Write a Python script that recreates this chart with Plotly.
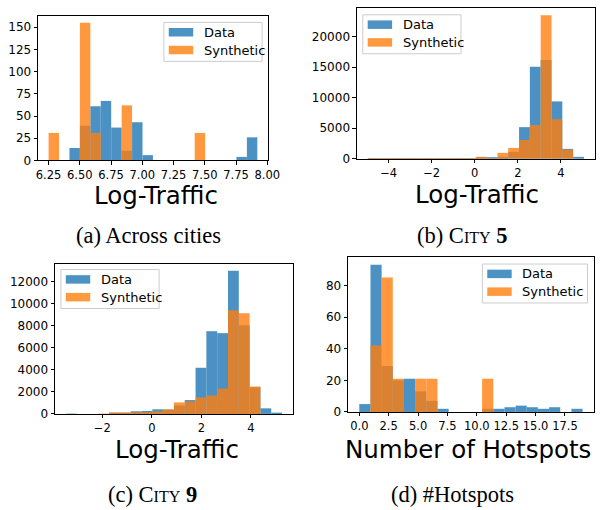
import numpy as np
import plotly.graph_objects as go

W, H = 608, 510

# ---------------- data (histogram counts, 20 shared bins per panel) ----------------
a_bin_range = (6.25, 7.92)
a_data = [0, 0, 14, 39, 61, 67, 37, 11, 43, 6, 0, 0, 0, 0, 0, 0, 0, 0, 4, 26]
a_synth = [31, 0, 0, 155, 31, 0, 0, 62, 0, 0, 0, 0, 0, 0, 31, 0, 0, 0, 0, 0]

b_bin_range = (-4.97, 5.07)
b_data = [30, 20, 20, 20, 30, 30, 40, 50, 60, 80, 100, 150, 320, 1130, 5175, 15040, 16170, 9380, 1617, 320]
b_synth = [60, 30, 30, 30, 30, 30, 40, 50, 50, 60, 320, 60, 970, 1780, 3073, 5500, 23450, 6470, 1509, 0]

c_bin_range = (-3.47, 5.26)
c_data = [10, 0, 0, 0, 120, 120, 240, 270, 420, 400, 778, 1257, 4190, 7510, 7330, 12990, 8050, 2424, 509, 30]
c_synth = [0, 0, 0, 10, 30, 60, 150, 150, 240, 400, 1047, 1137, 1496, 1676, 2304, 9400, 9127, 2484, 0, 0]

d_bin_range = (0, 19)
d_data = [5, 93, 29, 20, 21, 13, 7, 2, 0, 0, 0, 2, 2, 3, 4, 3, 2, 3, 0, 2]
d_synth = [0, 42, 85, 21, 0, 21, 21, 0, 0, 0, 0, 21, 0, 0, 0, 0, 0, 0, 0, 0]

series_names = ["Data", "Synthetic"]
x_titles = ["Log-Traffic", "Log-Traffic", "Log-Traffic", "Number of Hotspots"]
captions = [
    "(a) Across cities",
    "(b) C<span style='font-size:16px'>ITY</span> <b>5</b>",
    "(c) C<span style='font-size:16px'>ITY</span> <b>9</b>",
    "(d) #Hotspots",
]

BLUE = "#1f77b4"
ORANGE = "#ff7f0e"

# ---------------- layout geometry (pixels) ----------------
panels = [
    dict(rng=a_bin_range, d=a_data, s=a_synth, box=(37, 16, 272, 162.7),
         xtick=dict(tick0=6.25, dtick=0.25, tickformat=".2f"), ydtick=25,
         leg=(165.7, 22.7), title=(157.5, 198.5), cap=(150, 239)),
    dict(rng=b_bin_range, d=b_data, s=b_synth, box=(363.3, 8.3, 606.7, 161),
         xtick=dict(tick0=0, dtick=2, tickformat="d"), ydtick=5000,
         leg=(369.3, 15), title=(485.8, 197), cap=(470.8, 239)),
    dict(rng=c_bin_range, d=c_data, s=c_synth, box=(54.3, 267.3, 297.7, 419.7),
         xtick=dict(tick0=0, dtick=2, tickformat="d"), ydtick=2000,
         leg=(60.3, 273.3), title=(179, 455.5), cap=(154, 501)),
    dict(rng=d_bin_range, d=d_data, s=d_synth, box=(354.3, 261, 605.7, 417.7),
         xtick=dict(tick0=0, dtick=2.5, tickformat=".1f"), ydtick=20,
         leg=(491.7, 267.7), title=(477.4, 455.5), cap=(460.8, 501)),
]


def px(x):
    return x / W


def py(y):
    return 1 - y / H


fig = go.Figure()
layout = dict(
    width=W, height=H, margin=dict(l=0, r=0, t=0, b=0),
    paper_bgcolor="white", plot_bgcolor="white",
    barmode="overlay", showlegend=False,
    font=dict(family="DejaVu Sans", color="black"),
)
shapes = []
annotations = []

for i, p in enumerate(panels):
    k = "" if i == 0 else str(i + 1)
    xa, ya = "x" + k, "y" + k
    edges = np.linspace(p["rng"][0], p["rng"][1], len(p["d"]) + 1)
    centers = (edges[:-1] + edges[1:]) / 2
    widths = np.diff(edges)
    for vals, col in ((p["d"], BLUE), (p["s"], ORANGE)):
        fig.add_trace(go.Bar(x=centers, y=vals, width=widths, marker=dict(color=col, line=dict(width=0)),
                             opacity=0.8, xaxis=xa, yaxis=ya, showlegend=False, hoverinfo="skip"))
    span = edges[-1] - edges[0]
    xr = [edges[0] - 0.05 * span, edges[-1] + 0.05 * span]
    ymax = max(max(p["d"]), max(p["s"])) * 1.05
    x0, y0, x1, y1 = p["box"]
    axis_common = dict(showgrid=False, zeroline=False, showline=True, mirror=True,
                       linecolor="black", linewidth=1, ticks="outside", ticklen=3.5,
                       tickwidth=1, tickcolor="black")
    layout["xaxis" + k] = dict(domain=[px(x0), px(x1)], anchor=ya, range=xr,
                               tickmode="linear", **p["xtick"], **axis_common,
                               tickfont=dict(family="DejaVu Sans", size=11.5, color="black"))
    layout["yaxis" + k] = dict(domain=[py(y1), py(y0)], anchor=xa, range=[0, ymax],
                               tickmode="linear", tick0=0, dtick=p["ydtick"], tickformat="d",
                               **axis_common,
                               tickfont=dict(family="DejaVu Sans", size=12, color="black"))
    # legend (matplotlib-like)
    lx, ly = p["leg"]
    lw = 100.5 if i != 3 else 107.6
    shapes.append(dict(type="rect", xref="paper", yref="paper", x0=px(lx), x1=px(lx + lw),
                       y0=py(ly + 39.5), y1=py(ly), fillcolor="rgba(255,255,255,0.8)",
                       line=dict(color="#cccccc", width=1), layer="above"))
    for j, (name, col) in enumerate(zip(series_names, (BLUE, ORANGE))):
        ty = ly + 10 + j * 18
        shapes.append(dict(type="rect", xref="paper", yref="paper", x0=px(lx + 5), x1=px(lx + 30),
                           y0=py(ty + 4.3), y1=py(ty - 4.3), fillcolor=col, opacity=0.8,
                           line=dict(width=0), layer="above"))
        annotations.append(dict(text=name, x=px(lx + 39), y=py(ty), xref="paper", yref="paper",
                                xanchor="left", yanchor="middle", showarrow=False,
                                font=dict(family="DejaVu Sans", size=13, color="black")))
    tx, ty = p["title"]
    annotations.append(dict(text=x_titles[i], x=px(tx), y=py(ty), xref="paper", yref="paper",
                            xanchor="center", yanchor="middle", showarrow=False,
                            font=dict(family="DejaVu Sans", size=24.5, color="black")))
    cx, cy = p["cap"]
    annotations.append(dict(text=captions[i], x=px(cx), y=py(cy), xref="paper", yref="paper",
                            xanchor="center", yanchor="middle", showarrow=False,
                            font=dict(family="Liberation Serif", size=22.5, color="black")))

layout["shapes"] = shapes
layout["annotations"] = annotations
fig.update_layout(**layout)
fig.write_html("out.html", config={"displayModeBar": False},
               post_script="document.body.style.margin='0';")
